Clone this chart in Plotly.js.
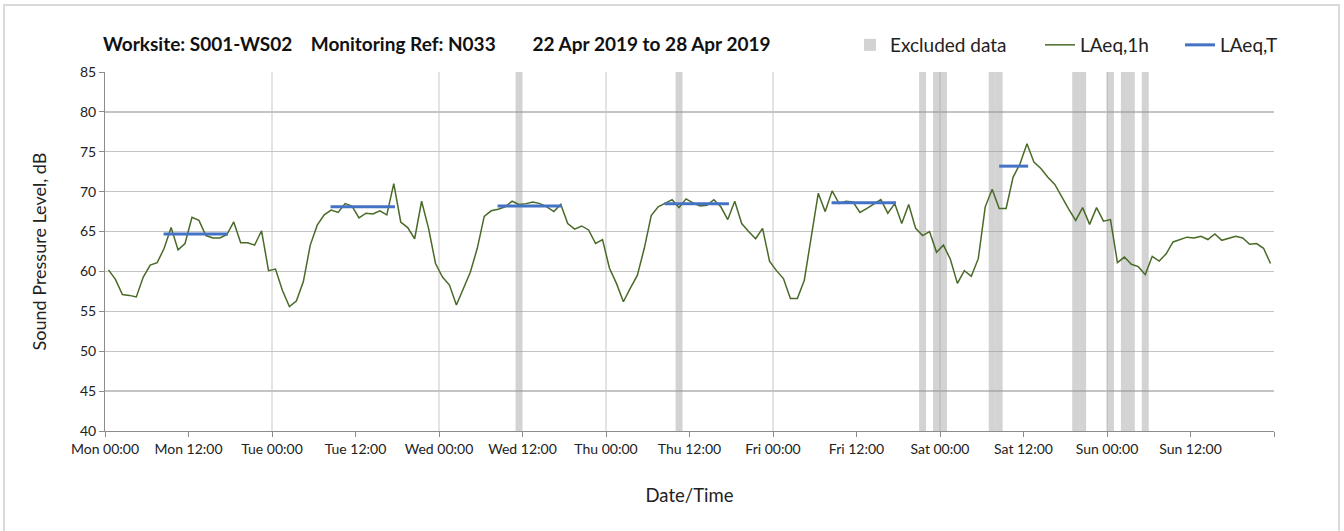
<!DOCTYPE html>
<html><head><meta charset="utf-8">
<script src="https://cdn.plot.ly/plotly-3.0.1.min.js"></script>
<style>html,body{margin:0;padding:0;background:#fff}#chart{width:1344px;height:531px}</style>
</head><body><div id="chart"></div>
<script>
// ---- DATA ----
const startDate = '2019-04-22';
const laeq1h = [
  60.2, 59.0, 57.1, 57.0, 56.8, 59.3, 60.8, 61.1, 62.9, 65.5, 62.7, 63.5, 66.8, 66.4, 64.5, 64.2, 64.2, 64.6, 66.2, 63.6, 63.6, 63.3, 65.1, 60.1,
  60.3, 57.6, 55.6, 56.3, 58.7, 63.3, 65.8, 67.1, 67.7, 67.4, 68.5, 68.2, 66.7, 67.3, 67.2, 67.6, 67.1, 71.0, 66.2, 65.5, 64.1, 68.8, 65.4, 61.0,
  59.3, 58.3, 55.8, 57.9, 59.9, 62.9, 66.9, 67.6, 67.8, 68.1, 68.8, 68.4, 68.5, 68.7, 68.5, 68.1, 67.5, 68.4, 66.0, 65.3, 65.7, 65.2, 63.5, 64.0,
  60.4, 58.5, 56.2, 57.9, 59.5, 62.9, 67.0, 68.1, 68.6, 69.0, 68.0, 69.1, 68.6, 68.2, 68.3, 69.0, 68.1, 66.5, 68.8, 66.0, 65.0, 64.1, 65.4, 61.3,
  60.1, 59.1, 56.6, 56.6, 58.9, 64.3, 69.8, 67.5, 70.1, 68.5, 68.8, 68.7, 67.4, 67.9, 68.4, 69.0, 67.3, 68.5, 66.0, 68.4, 65.4, 64.5, 65.0, 62.4,
  63.3, 61.5, 58.5, 60.1, 59.4, 61.6, 68.1, 70.3, 67.9, 67.9, 71.8, 73.5, 76.0, 73.7, 72.9, 71.8, 70.9, 69.3, 67.8, 66.4, 68.0, 65.9, 68.0, 66.3,
  66.5, 61.1, 61.8, 60.9, 60.6, 59.6, 61.9, 61.3, 62.2, 63.7, 64.0, 64.3, 64.2, 64.4, 64.0, 64.7, 63.9, 64.2, 64.4, 64.2, 63.4, 63.5, 62.9, 61.0
];
const excludedHours = [
  '2019-04-24 11:00', '2019-04-25 10:00', '2019-04-26 21:00', '2019-04-26 23:00', '2019-04-27 00:00',
  '2019-04-27 07:00', '2019-04-27 08:00', '2019-04-27 19:00', '2019-04-27 20:00', '2019-04-28 00:00',
  '2019-04-28 02:00', '2019-04-28 03:00', '2019-04-28 05:00'
];
const laeqTDays   = ['2019-04-22', '2019-04-23', '2019-04-24', '2019-04-25', '2019-04-26', '2019-04-27'];
const laeqTStart  = ['08:25', '08:25', '08:25', '08:25', '08:25', '08:30'];
const laeqTEnd    = ['17:40', '17:40', '17:40', '17:40', '17:40', '12:40'];
const laeqTValues = [64.7, 68.1, 68.2, 68.5, 68.6, 73.2];
const xTickLabels = ['Mon 00:00', 'Mon 12:00', 'Tue 00:00', 'Tue 12:00', 'Wed 00:00', 'Wed 12:00', 'Thu 00:00', 'Thu 12:00',
  'Fri 00:00', 'Fri 12:00', 'Sat 00:00', 'Sat 12:00', 'Sun 00:00', 'Sun 12:00', ''];
const yTickValues = [40, 45, 50, 55, 60, 65, 70, 75, 80, 85];

// ---- HELPERS ----
const HOUR = 3600000;
const base = Date.UTC(2019, 3, 22);
function fmt(ms) { return new Date(ms).toISOString().slice(0, 16).replace('T', ' '); }

const hourTimes = laeq1h.map((_, i) => fmt(base + i * HOUR + HOUR / 2));
const tickPositions = xTickLabels.map((_, k) => fmt(base + k * 12 * HOUR));

const tX = [], tY = [];
laeqTDays.forEach((d, k) => {
  tX.push(d + ' ' + laeqTStart[k], d + ' ' + laeqTEnd[k], null);
  tY.push(laeqTValues[k], laeqTValues[k], null);
});

const FONT = 'Lato, "Open Sans", sans-serif';
const L = 105, R = 70, T = 72, B = 100;
const W = 1344 - L - R, H = 531 - T - B;

const shapes = [];
for (let d = 1; d < 7; d++) {
  shapes.push({type: 'line', xref: 'x', yref: 'paper', x0: fmt(base + d * 24 * HOUR), x1: fmt(base + d * 24 * HOUR),
    y0: 0, y1: 1, line: {color: '#dadada', width: 1.5}, layer: 'below'});
}
shapes.push({type: 'rect', xref: 'paper', yref: 'paper',
  x0: (4 - L) / W, x1: (1339 - L) / W, y0: (431 - 545) / H, y1: (431 - 5) / H,
  line: {color: '#d9d9d9', width: 2}, fillcolor: 'rgba(0,0,0,0)'});

const traces = [
  {type: 'bar', name: 'Excluded data', legend: 'legend', x: excludedHours, y: excludedHours.map(() => 45), base: 40,
   offset: 0, width: HOUR, marker: {color: 'rgba(150,150,150,0.42)', line: {width: 0}}, hoverinfo: 'skip'},
  {type: 'scatter', mode: 'lines', name: 'LAeq,1h', legend: 'legend2', x: hourTimes, y: laeq1h,
   line: {color: '#4a6a28', width: 1.5}},
  {type: 'scatter', mode: 'lines', name: 'LAeq,T', legend: 'legend3', x: tX, y: tY, connectgaps: false,
   line: {color: '#4472c4', width: 3}}
];

const legBase = {orientation: 'h', xref: 'container', xanchor: 'left', yref: 'container', y: 1 - 45 / 531, yanchor: 'middle',
  font: {family: FONT, size: 19, color: '#222'}, bgcolor: 'rgba(0,0,0,0)', borderwidth: 0};

const layout = {
  width: 1344, height: 531,
  margin: {l: L, r: R, t: T, b: B, pad: 0},
  paper_bgcolor: '#fff', plot_bgcolor: '#fff',
  font: {family: FONT, color: '#222'},
  title: {text: 'Worksite: S001-WS02\u00a0\u00a0\u00a0\u00a0Monitoring Ref: N033\u00a0\u00a0\u00a0\u00a0\u00a0\u00a0\u00a0\u00a022 Apr 2019 to 28 Apr 2019',
    font: {family: FONT, size: 19, color: '#111', weight: 'bold'},
    xref: 'container', x: 103 / 1344, xanchor: 'left', yref: 'container', y: 1 - 44 / 531, yanchor: 'middle'},
  showlegend: true,
  legend: Object.assign({}, legBase, {x: 850 / 1344}),
  legend2: Object.assign({}, legBase, {x: 1040 / 1344}),
  legend3: Object.assign({}, legBase, {x: 1180 / 1344}),
  xaxis: {type: 'date', range: [fmt(base), fmt(base + 7 * 24 * HOUR)], tickmode: 'array',
    tickvals: tickPositions, ticktext: xTickLabels, showgrid: false, zeroline: false,
    showline: true, linecolor: '#8c8c8c', linewidth: 1, ticks: 'outside', ticklen: 5, tickcolor: '#8c8c8c',
    tickfont: {family: FONT, size: 14, color: '#222'},
    title: {text: 'Date/Time', font: {family: FONT, size: 18.5, color: '#222'}, standoff: 33}},
  yaxis: {range: [40, 85], tickmode: 'array', tickvals: yTickValues, showgrid: true, gridcolor: '#c4c4c4', gridwidth: 1.3,
    zeroline: false, showline: true, linecolor: '#8c8c8c', linewidth: 1, ticks: 'outside', ticklen: 5, tickcolor: '#8c8c8c',
    tickfont: {family: FONT, size: 14, color: '#222'},
    title: {text: 'Sound Pressure Level, dB', font: {family: FONT, size: 18, color: '#222'}, standoff: 28}},
  shapes: shapes
};

Plotly.newPlot('chart', traces, layout, {staticPlot: true, displayModeBar: false});
</script>
</body></html>
